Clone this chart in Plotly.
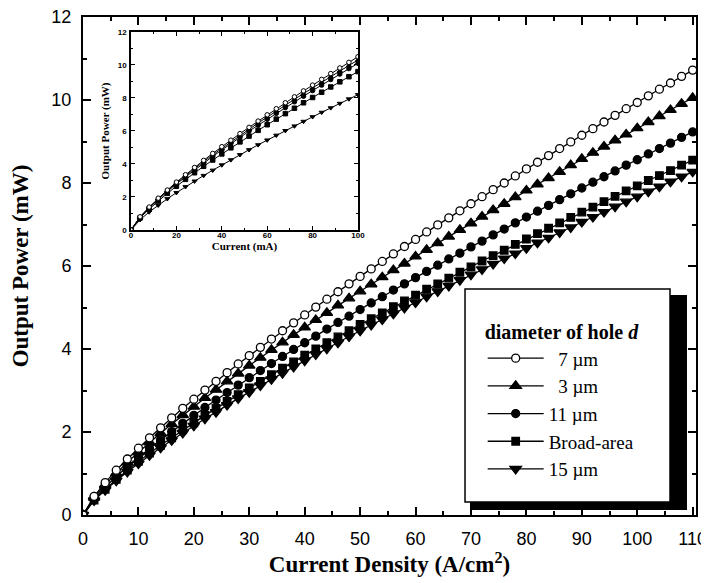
import plotly.graph_objects as go

# ---------------- main panel data ----------------
density = [0, 2, 4, 6, 8, 10, 12, 14, 16, 18, 20, 22, 24, 26, 28, 30, 32, 34, 36, 38,
           40, 42, 44, 46, 48, 50, 52, 54, 56, 58, 60, 62, 64, 66, 68, 70, 72, 74, 76, 78,
           80, 82, 84, 86, 88, 90, 92, 94, 96, 98, 100, 102, 104, 106, 108, 110]

p_7um = [0, 0.45, 0.78, 1.08, 1.35, 1.61, 1.86, 2.10, 2.34, 2.57, 2.79, 3.01, 3.22, 3.43,
         3.64, 3.84, 4.04, 4.24, 4.44, 4.63, 4.82, 5.01, 5.20, 5.38, 5.57, 5.75, 5.93, 6.11,
         6.29, 6.47, 6.64, 6.82, 6.99, 7.16, 7.33, 7.50, 7.67, 7.84, 8.00, 8.17, 8.34, 8.50,
         8.66, 8.83, 8.99, 9.15, 9.31, 9.47, 9.63, 9.79, 9.94, 10.10, 10.26, 10.41, 10.57, 10.72]

p_3um = [0, 0.42, 0.73, 1.01, 1.27, 1.51, 1.75, 1.97, 2.19, 2.41, 2.61, 2.82, 3.02, 3.22,
         3.41, 3.60, 3.79, 3.98, 4.16, 4.34, 4.52, 4.70, 4.87, 5.05, 5.22, 5.39, 5.56, 5.73,
         5.90, 6.06, 6.23, 6.39, 6.55, 6.71, 6.87, 7.03, 7.19, 7.35, 7.50, 7.66, 7.82, 7.97,
         8.12, 8.27, 8.43, 8.58, 8.73, 8.88, 9.03, 9.17, 9.32, 9.47, 9.61, 9.76, 9.91, 10.05]

p_11um = [0, 0.39, 0.67, 0.93, 1.16, 1.39, 1.60, 1.81, 2.01, 2.21, 2.40, 2.59, 2.77, 2.95,
          3.13, 3.31, 3.48, 3.65, 3.82, 3.99, 4.15, 4.31, 4.48, 4.64, 4.79, 4.95, 5.11, 5.26,
          5.42, 5.57, 5.72, 5.87, 6.02, 6.17, 6.31, 6.46, 6.60, 6.75, 6.89, 7.04, 7.18, 7.32,
          7.46, 7.60, 7.74, 7.88, 8.02, 8.15, 8.29, 8.43, 8.56, 8.70, 8.83, 8.96, 9.10, 9.23]

p_broad = [0, 0.36, 0.62, 0.86, 1.08, 1.29, 1.49, 1.68, 1.86, 2.05, 2.22, 2.40, 2.57, 2.74,
           2.90, 3.06, 3.22, 3.38, 3.54, 3.69, 3.85, 4.00, 4.15, 4.29, 4.44, 4.59, 4.73, 4.87,
           5.02, 5.16, 5.30, 5.44, 5.57, 5.71, 5.85, 5.98, 6.12, 6.25, 6.38, 6.52, 6.65, 6.78,
           6.91, 7.04, 7.17, 7.30, 7.42, 7.55, 7.68, 7.81, 7.93, 8.06, 8.18, 8.30, 8.43, 8.55]

p_15um = [0, 0.35, 0.60, 0.83, 1.04, 1.24, 1.44, 1.62, 1.80, 1.98, 2.15, 2.32, 2.48, 2.65,
          2.81, 2.96, 3.12, 3.27, 3.42, 3.57, 3.72, 3.87, 4.01, 4.15, 4.30, 4.44, 4.58, 4.71,
          4.85, 4.99, 5.12, 5.26, 5.39, 5.52, 5.66, 5.79, 5.92, 6.05, 6.18, 6.30, 6.43, 6.56,
          6.68, 6.81, 6.93, 7.06, 7.18, 7.30, 7.43, 7.55, 7.67, 7.79, 7.91, 8.03, 8.15, 8.27]

legend_names = ["\u20027 \u00b5m", "\u20023 \u00b5m", "11 \u00b5m", "Broad-area", "15 \u00b5m"]

# ---------------- inset data ----------------
current_ma = [0, 4, 8, 12, 16, 20, 24, 28, 32, 36, 40, 44, 48, 52, 56, 60, 64, 68, 72, 76,
              80, 84, 88, 92, 96, 100]
inset_a = [0, 0.80, 1.39, 1.93, 2.42, 2.90, 3.35, 3.79, 4.22, 4.64, 5.05, 5.44, 5.84, 6.22,
           6.60, 6.98, 7.35, 7.71, 8.07, 8.43, 8.78, 9.13, 9.48, 9.82, 10.16, 10.50]
inset_b = [0, 0.78, 1.37, 1.89, 2.38, 2.84, 3.29, 3.72, 4.14, 4.55, 4.95, 5.34, 5.73, 6.10,
           6.48, 6.85, 7.21, 7.57, 7.92, 8.27, 8.62, 8.96, 9.30, 9.64, 9.97, 10.30]
inset_c = [0, 0.77, 1.34, 1.85, 2.33, 2.79, 3.22, 3.65, 4.06, 4.46, 4.85, 5.24, 5.61, 5.99,
           6.35, 6.71, 7.07, 7.42, 7.77, 8.11, 8.45, 8.78, 9.12, 9.45, 9.78, 10.10]
inset_d = [0, 0.73, 1.27, 1.76, 2.22, 2.65, 3.07, 3.47, 3.86, 4.24, 4.61, 4.98, 5.34, 5.69,
           6.04, 6.38, 6.72, 7.05, 7.38, 7.71, 8.03, 8.35, 8.67, 8.98, 9.29, 9.60]
inset_e = [0, 0.62, 1.09, 1.50, 1.89, 2.26, 2.62, 2.96, 3.30, 3.62, 3.94, 4.25, 4.56, 4.86,
           5.16, 5.45, 5.74, 6.02, 6.30, 6.58, 6.86, 7.13, 7.40, 7.67, 7.94, 8.20]

SERIF = "Liberation Serif"
SANS = "Liberation Sans"

main_series = [
    (legend_names[0], p_7um, "circle", "white", 8),
    (legend_names[1], p_3um, "triangle-up", "black", 10),
    (legend_names[2], p_11um, "circle", "black", 8),
    (legend_names[3], p_broad, "square", "black", 7.5),
    (legend_names[4], p_15um, "triangle-down", "black", 10),
]

fig = go.Figure()

# draw bottom series first so the open circles stay on top
for rank, (name, vals, sym, fill, size) in reversed(list(enumerate(main_series))):
    fig.add_trace(go.Scatter(
        x=density, y=vals, name=name, mode="lines+markers",
        line=dict(color="black", width=1.3),
        marker=dict(symbol=sym, color=fill, size=size, line=dict(color="black", width=1.3)),
        legendrank=rank + 1,
        xaxis="x", yaxis="y",
    ))

inset_series = [(inset_e, "triangle-down", "black"), (inset_d, "square", "black"),
                (inset_c, "circle", "black"), (inset_b, "triangle-up", "black"),
                (inset_a, "circle", "white")]
for vals, sym, fill in inset_series:
    fig.add_trace(go.Scatter(
        x=current_ma, y=vals, mode="lines+markers", showlegend=False,
        line=dict(color="black", width=1),
        marker=dict(symbol=sym, color=fill, size=4.5, line=dict(color="black", width=1)),
        xaxis="x2", yaxis="y2",
    ))

axis_common = dict(showline=True, linecolor="black", mirror="ticks", ticks="inside",
                   tickcolor="black", showgrid=False, zeroline=False, automargin=False,
                   ticklabeloverflow="allow")

# the page body adds an 8 px offset, so the figure is 8 px smaller with 8 px smaller left/top margins
fig.update_layout(
    width=701, height=575,
    margin=dict(l=75, r=13, t=9, b=68),
    paper_bgcolor="white", plot_bgcolor="white",
    showlegend=True,
    legend=dict(
        x=0.652, y=0.405, xanchor="left", yanchor="top",
        bgcolor="rgba(0,0,0,0)", borderwidth=0,
        itemwidth=56,
        font=dict(family=SERIF, size=19, color="black"),
        title=dict(text="diameter of hole <i>d</i>",
                   font=dict(family=SERIF, size=20, color="black", weight="bold")),
        traceorder="normal",
    ),
    xaxis=dict(
        **axis_common, domain=[0, 1], anchor="y", range=[0, 110.6],
        linewidth=2, ticklen=8, tickwidth=1.5, tick0=0, dtick=10,
        minor=dict(ticks="inside", ticklen=4, tickwidth=1.5, dtick=5, tickcolor="black"),
        tickfont=dict(family=SANS, size=18, color="black"),
        ticklabelstandoff=6,
        title=dict(text="Current Density (A/cm<sup>2</sup>)", standoff=2,
                   font=dict(family=SERIF, size=23, color="black", weight="bold")),
    ),
    yaxis=dict(
        **axis_common, domain=[0, 1], anchor="x", range=[0, 12],
        linewidth=2, ticklen=8, tickwidth=1.5, tick0=0, dtick=2,
        minor=dict(ticks="inside", ticklen=4, tickwidth=1.5, dtick=1, tickcolor="black"),
        tickfont=dict(family=SANS, size=18, color="black"),
        ticklabelstandoff=6,
        title=dict(text="Output Power (mW)", standoff=16,
                   font=dict(family=SERIF, size=23, color="black", weight="bold")),
    ),
    xaxis2=dict(
        **axis_common, domain=[0.0783, 0.4486], anchor="y2", range=[0, 100],
        linewidth=1.5, ticklen=4, tickwidth=1, tick0=0, dtick=20,
        minor=dict(ticks="inside", ticklen=2, tickwidth=1, dtick=10, tickcolor="black"),
        tickfont=dict(family=SANS, size=8, color="black", weight="bold"),
        ticklabelstandoff=-3,
        title=dict(text="Current (mA)", standoff=1,
                   font=dict(family=SERIF, size=11, color="black", weight="bold")),
    ),
    yaxis2=dict(
        **axis_common, domain=[0.5723, 0.9699], anchor="x2", range=[0, 12],
        linewidth=1.5, ticklen=4, tickwidth=1, tick0=0, dtick=2,
        minor=dict(ticks="inside", ticklen=2, tickwidth=1, dtick=1, tickcolor="black"),
        tickfont=dict(family=SANS, size=8, color="black", weight="bold"),
        ticklabelstandoff=1,
        title=dict(text="Output Power (mW)", standoff=6,
                   font=dict(family=SERIF, size=11, color="black", weight="bold")),
    ),
    shapes=[
        # legend drop shadow
        dict(type="rect", xref="paper", yref="paper", x0=0.6313, x1=0.9853, y0=0.0100, y1=0.4418,
             fillcolor="black", line=dict(color="black", width=0), layer="above"),
        # legend box
        dict(type="rect", xref="paper", yref="paper", x0=0.6232, x1=0.9576, y0=0.0261, y1=0.4538,
             fillcolor="white", line=dict(color="black", width=1.5), layer="above"),
    ],
)

fig.write_html("out.html")
